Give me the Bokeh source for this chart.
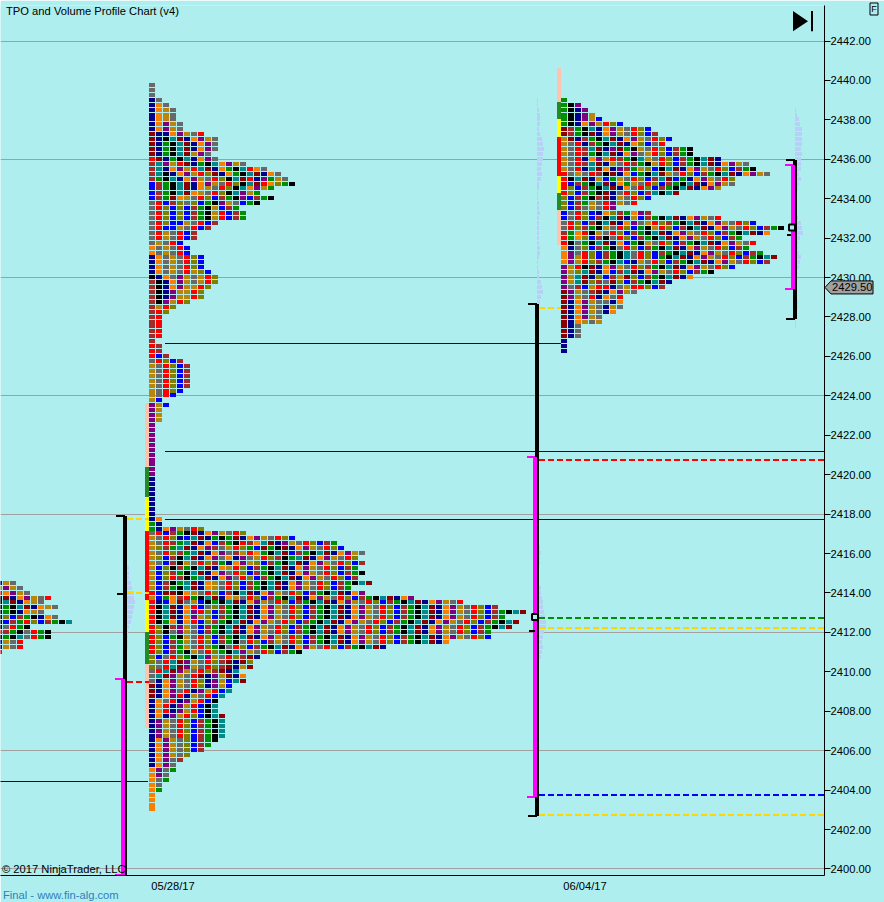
from bokeh.plotting import figure
from bokeh.models import (Range1d, FixedTicker, NumeralTickFormatter)
from bokeh.core.properties import value
from bokeh.embed import file_html
from bokeh.resources import INLINE

BG = "#AFEEEE"
PALETTE = {"g": "#696969", "n": "#00008B", "o": "#F97F00", "d": "#B8860B", "p": "#800080",
           "k": "#000000", "t": "#008B8B", "r": "#8B0000", "R": "#FF0000", "G": "#008F00",
           "B": "#0000FF", "b": "#A52A2A", "l": "#808000"}
CYCLE = "dgRlBbGktrnop"
TICK = 0.25

TICK_PRICES = list(range(2400, 2444, 2))
GRID_PRICES = list(range(2400, 2448, 6))
DATE_LABELS = {173: "05/28/17", 585: "06/04/17"}

# --- session 0 (left edge)
Z_TOP = 2414.5
Z_COLORS = ["ndg", "dpdg", "Ropdg", "krnopdgR", "ktrnodg", "kGktrnodg", "kGknodg", "klBbGknog",
            "kBbGRlBbGk", "kgRGk", "RbGkgRGk", "kGktgRGk", "ndgR", "ndgR", "R"]
Z_WIDTHS = [3, 4, 5, 8, 7, 9, 7, 9, 11, 5, 8, 8, 4, 4, 1]

# --- session 1 (05/28)
A_TOP = 2439.75
A_WIDTHS = [1, 1, 1, 2, 3, 4, 4, 4, 5, 5, 8, 10, 10, 10, 9, 10, 14, 17, 19, 20, 21, 18, 16, 18, 16,
            13, 14, 14, 10, 9, 7, 7, 5, 6, 6, 8, 8, 8, 9, 10, 10, 9, 8, 8, 6, 4, 3, 2, 2, 2,
            2, 2, 1, 2, 2, 3, 5, 6, 6, 6, 6, 6, 5, 4, 2, 3, 2, 2, 2, 1, 1,
            1, 1, 1, 1, 1, 1, 1, 1, 1, 1, 1, 1, 1, 1, 1, 1, 1, 2, 2,
            8, 14, 21, 27, 28, 31, 30, 31, 30, 31, 30, 32, 29, 31, 38, 45, 50, 54, 51, 53, 52, 49, 49,
            43, 34, 22, 16, 15, 15, 13, 14, 14, 12, 12, 11, 10, 10, 10, 11, 11, 11, 11, 11, 10, 9, 8,
            6, 5, 4, 4, 3, 3, 2, 2, 1, 1, 1, 1]
A_COLORS = (["g"] * 3 + ["ng", "nog"] + ["nodg"] * 3 + ["nopdg"] * 2 + [
    "rnnopdgR", "rnktrnopdg", "rnGktrnopg", "rnGktrnopg", "rnGktrdpg", "RrnGktnopg",
    "btpdRrnGktopdg", "btnopdRtrnoGktRog", "btknopdRlrnoGktrnog", "bGktnopdgRlktrRnpGd",
    "BbGktrnopdgRlktrRolGk", "BbGktrnodgRlktopdG", "BbGktrodgRlktpdG", "BbGrodgRlBbGkpBbG",
    "gRBblglBGkpdgBG", "gRlBlBbGkdBbG", "gRlBlBbGkdRBbG", "gRlBlBbGkdRBbG", "gRlBBdgRBb",
    "gRBBdgRBb", "gRdgRBb", "gRdgRBb", "gdgRB", "ogdgRB", "ogdgRB", "nogdgRlB", "nogdgRlB",
    "nogdgRlB", "nogdgRdlB", "knogpdgdRl", "bknopdgdRl", "bknopddRl", "bknpddRl", "bknpddRl",
    "bkpdRl", "bdRl", "bRl"] + ["bR"] * 5 + ["b", "Rb", "Rb", "RBb", "gRlBb"] + ["dgRlBb"] * 5 + [
    "dgRlB", "dgRB", "dB", "pdB", "pd", "pd", "pd"] + ["p"] * 2 + ["p"] * 9 + ["n"] * 9 + ["Gn"] * 2 + [
    "gRBbGkrn", "dgRlnBtrnGkGrn", "dgRbGtrnoBbGkRbotrnpd", "dlbGtrnopbgdRlGBrGkrn",
    "dgRlbGtrnopgbdRoGktrBbGktrnop", "dlBbktrnopgonpgdRlbkGtrnopdgRl", "dgBbkdgRlbGnopdlBbGktrnopdgR",
    "dBlkbGktrnodRlBbGktrnopdgRlB", "dBlbGktrnopgRlBbGkt", "dBlRbkGtrnopgRl", "dBbkGtrnodgRlB",
    "dBbGktrnodgRlB", "RBrrkodgRlBbkt", "dBGobRGktrnodg", "RnBorgdBkGkt", "RktrnoRBglbGkt",
    "RktrnopRlBbGkt", "RktrnopdlBbGkt", "RkGonoRBlbGktr", "RlkbpdgBbGktr", "RlkgpdgBbGktr",
    "RlBGkdgRlBbGk", "RlBbGdgRlBbGkgRlBbdg", "RlBbGdgRlGkgRlBbG", "RlBbGkdgRlGktpdg",
    "lBgRlGktpdgRlbrnglnr", "lgRtrpdgRlbrnrlg", "lgRtrpdgRlbrndr", "gRtrpdgRlbrntr", "gtrpdgRrnpdrn",
    "gnopdgRlnpdBtr", "rnopdgRlnpdBtr", "rnopgRnpdRBt", "rnopRndgRBtt", "nogRnpdRBkt", "noRnpdRBkt",
    "noRnpdRBkt", "nonpdRlBkt", "npdgRlBbGkt", "npdgRlBbGkt", "npdgRlBbGkt", "npdgRlBbGkt",
    "nopdglBbGkt", "nopdglBbGt", "nopdglBbG", "nopdglbG", "nopgbG", "nopgG", "opgG", "opgG", "ogG",
    "ogG", "oG", "oG", "o", "o", "o", "o"])

# --- session 2 (06/04)
B_TOP = 2439.0
B_WIDTHS = [1, 3, 4, 5, 6, 9, 13, 14, 16, 15, 19, 19, 23, 27, 28, 30, 25, 25, 23, 17, 13, 11, 8, 13,
            23, 28, 32, 30, 26, 28, 27, 29, 31, 30, 25, 22, 19, 16, 15, 11, 9, 9, 9, 8, 6, 6, 3, 3, 3,
            1, 1, 1]
B_COLORS = ["G", "Gkp", "Gknp", "Gknpd", "GknpdB", "GknopdRlB", "rbGktnopdgRlB", "rbGkrnopdgRlBb",
            "drnbGktrnopdgRlB", "dgRnbGktrnolBgR", "dgRbtrnprGkdgRlB", "dgRbGktrnopgdRlB",
            "dgRnopdRbGktdgR", "dgRbtrndgRbGkdR", "dgRntronpbGdlBk", "RgdgRbkrnoBGktrdg",
            "RktrndBGdgRlBbtrBGnopd", "RBbGktrnoGdgRlB", "RlBbGktrnogRlBbGk", "RlBbGkrngRlBbtk",
            "lBbGkbrndgR", "lBbGdgRpd", "lBbgdgRp", "BgRlBnolbGopb", "BgRlBbktrndBb", "gRlBbktrnopgdRlbGk",
            "gRlbGkdgRlBGkdRlBbk", "bGoRkdgRlBbGktr", "RGolBbkgRlBbG", "RkgGktrnoBGkd", "onglBbGkgRlBb",
            "opgRlBbGktgRlBbGkt", "opdRlBbGktgRlBGk", "opdRlbGktBnd", "pdRkrnopdgRlbGkt", "pdltrnoBbtrn",
            "pdtrnlBbdrlBb", "pdtrlbgrlB", "pgbBdRRngdRR", "rpdgbrnopdg", "rpdgRnog", "rnopdggn", "rnopdgnd",
            "rnopdgn", "rnopdg", "rnodgd", "rng", "rng", "rng", "n", "n", "n"]

# --- light volume profiles (per 0.25 row)
V1_TOP = 2415.25
V1_VOLUME = [2, 2, 2, 4, 5, 7, 7, 8, 7, 6, 5, 4, 2, 1, 1, 1, 1]
V2_TOP = 2416.25
V2_VOLUME = [2, 3, 2, 2, 1, 1, 1, 1, 3, 3, 4, 5, 5, 6, 7, 8, 8, 6, 5, 4, 5, 4, 3]
V3_TOP = 2439.0
V3_VOLUME = [1, 1, 2, 3, 3, 3, 2, 3, 5, 6, 7, 6, 6, 5, 4, 5, 4, 2, 2, 1, 1, 2, 2, 3, 2, 2, 2, 2,
             2, 2, 3, 3, 2, 1, 1, 2, 2, 4, 5, 6, 4, 3, 2]
V4_TOP = 2438.5
V4_VOLUME = [1, 2, 4, 5, 7, 7, 7, 7, 6, 7, 6, 6, 6, 4, 6, 4, 3, 1, 1, 1, 1, 2, 3, 6, 7, 8, 5, 3, 3,
             4, 6, 5, 4, 2, 1, 1, 1, 2, 2, 3, 3, 2, 1, 1, 1]

# --- reference levels
THIN_LEVELS = [(165, 561, 2426.68), (165, 824, 2421.22), (165, 824, 2417.75), (0, 148, 2404.46)]
DASHED_LEVELS = [(127, 149, 2417.75, "#FFD700"), (127, 149, 2414.0, "#FFD700"), (127, 149, 2409.5, "#FF0000"),
                 (539, 561, 2428.46, "#FFD700"), (539, 824, 2420.75, "#FF0000"), (539, 824, 2412.75, "#008F00"),
                 (539, 824, 2412.23, "#FFD700"), (539, 824, 2403.75, "#0000FF"), (539, 824, 2402.74, "#FFD700")]
# x, high, low of black range / magenta range
RANGES = [(125, 2417.91, 2399.7, 123, 2409.65, 2399.7),
          (537, 2428.66, 2402.69, 535, 2420.9, 2403.65),
          (795, 2435.96, 2427.9, 793, 2435.71, 2429.42)]
MID_TICKS = [(117, 123, 2413.95), (529, 535, 2412.05), (787, 791, 2432.16)]
POC = [(535, 2412.78), (792, 2432.54)]
# period bands beside each profile: (top price, bottom price, colour)
A_BANDS = [(2423.64, 2420.39, "#FFC4B0"), (2420.39, 2418.87, "#228B22"), (2418.87, 2417.14, "#FFFF00"),
           (2417.14, 2413.64, "#FF0000"), (2413.64, 2412.02, "#FFFF00"), (2412.02, 2410.4, "#228B22"),
           (2410.4, 2407.15, "#FFC4B0")]
B_BANDS = [(2440.63, 2438.9, "#FFC4B0"), (2438.9, 2438.04, "#228B22"), (2438.04, 2437.13, "#FFFF00"),
           (2437.13, 2435.15, "#FF0000"), (2435.15, 2434.29, "#FFFF00"), (2434.29, 2433.43, "#228B22"),
           (2433.43, 2431.65, "#FFC4B0")]
LAST_PRICE = 2429.5
LAST_PRICE_LABEL = "2429.50"

W, H = 884, 902
PX_PER_UNIT = 19.714
FRAME_TOP, FRAME_BOTTOM = 5, 875
# the page draws with a half-pixel offset; shift both ranges by it so that marks land on whole pixels
y_hi = 2442 + (41 - FRAME_TOP - 0.5) / PX_PER_UNIT
y_lo = y_hi - (FRAME_BOTTOM - FRAME_TOP) / PX_PER_UNIT


def to_px(price):
    return 41 + (2442 - price) * PX_PER_UNIT


def to_price(px):
    return 2442 - (px - 41) / PX_PER_UNIT


def crisp(price, odd=True):
    """Snap a level onto the pixel grid so that strokes stay sharp."""
    return to_price(round(to_px(price)) + (0.5 if odd else 0))


p = figure(width=W, height=H, output_backend="svg", toolbar_location=None,
           x_range=Range1d(0.5, 824.5), y_range=Range1d(y_lo, y_hi),
           y_axis_location="right", x_axis_location="below",
           min_border_left=0, min_border_right=60, min_border_top=FRAME_TOP, min_border_bottom=H - FRAME_BOTTOM,
           background_fill_color=BG, border_fill_color=BG, outline_line_color=None)
p.styles = {"position": "absolute", "left": "0px", "top": "0px"}

FONT = "Liberation Sans"
FS = "11.2px"
yax = p.yaxis[0]
yax.ticker = FixedTicker(ticks=TICK_PRICES)
yax.formatter = NumeralTickFormatter(format="0.00")
yax.major_tick_out = 6
yax.major_tick_in = 0
yax.minor_tick_out = 0
yax.minor_tick_in = 0
yax.major_label_standoff = 0
yax.major_label_text_font = FONT
yax.major_label_text_font_size = FS
yax.major_label_text_color = "black"
yax.axis_line_color = "black"

xax = p.xaxis[0]
xax.ticker = FixedTicker(ticks=list(DATE_LABELS))
xax.major_label_overrides = DATE_LABELS
xax.major_tick_out = 0
xax.major_tick_in = 0
xax.minor_tick_out = 0
xax.minor_tick_in = 0
xax.major_label_standoff = 4
xax.major_label_text_font = FONT
xax.major_label_text_font_size = FS
xax.major_label_text_color = "black"
xax.axis_line_color = "black"

p.xgrid.visible = False
p.ygrid.ticker = FixedTicker(ticks=GRID_PRICES)
p.ygrid.grid_line_color = "#A0A0A0"
p.ygrid.grid_line_width = 1

CELL_STEP, CELL_W, CELL_H = 7, 6, 4


def row_edges(price, h):
    top_px = round(to_px(price) - 2.4)
    return to_price(top_px), to_price(top_px + h)


def volume_bars(x0, top, vols):
    lefts = [x0] * len(vols)
    rights = [x0 + v for v in vols]
    edges = [row_edges(top - TICK * i, 4) for i in range(len(vols))]
    p.quad(left=lefts, right=rights, top=[e[0] for e in edges], bottom=[e[1] for e in edges],
           fill_color="#B8D0F8", line_color=None)


for x0, top, vols in [(127, V1_TOP, V1_VOLUME), (538, V2_TOP, V2_VOLUME),
                      (537, V3_TOP, V3_VOLUME), (795, V4_TOP, V4_VOLUME)]:
    volume_bars(x0, top, vols)

for x0, x1, lvl in THIN_LEVELS:
    y = crisp(lvl)
    p.segment(x0=[x0], x1=[x1], y0=[y], y1=[y], line_color="#000090", line_width=1)


def cells(x0, top, widths, colors):
    L, R, T, Bt, C = [], [], [], [], []
    for k, w in enumerate(widths):
        s = colors[k] if k < len(colors) else ""
        idx = CYCLE.index(s[-1]) + 1 if s else (k % 13)
        t, b = row_edges(top - TICK * k, CELL_H)
        for i in range(w):
            if i < len(s):
                c = s[i]
            else:
                c = CYCLE[idx % 13]
                idx += 1
            L.append(x0 + CELL_STEP * i)
            R.append(x0 + CELL_STEP * i + CELL_W)
            T.append(t)
            Bt.append(b)
            C.append(PALETTE[c])
    p.quad(left=L, right=R, top=T, bottom=Bt, fill_color=C, line_color=None)


cells(-4, Z_TOP, Z_WIDTHS, Z_COLORS)
cells(149, A_TOP, A_WIDTHS, A_COLORS)
cells(561, B_TOP, B_WIDTHS, B_COLORS)

for x0, bands in [(145, A_BANDS), (557, B_BANDS)]:
    for t, b, c in bands:
        p.quad(left=[x0], right=[x0 + 4], top=[crisp(t, False)], bottom=[crisp(b, False)], fill_color=c, line_color=None)

for x0, x1, lvl, c in DASHED_LEVELS:
    y = crisp(lvl, odd=False)
    p.segment(x0=[x0], x1=[x1], y0=[y], y1=[y], line_color=c, line_width=2, line_dash="6 3")

# range bars with end brackets
for xb, hb, lb, xm, hm, lm in RANGES:
    hb, lb, hm, lm = [crisp(v, False) for v in (hb, lb, hm, lm)]
    p.quad(left=[xb - 2], right=[xb + 2], top=[hb], bottom=[lb], fill_color="black", line_color=None)
    p.segment(x0=[xb - 9, xb - 9], x1=[xb, xb], y0=[hb, lb], y1=[hb, lb], line_color="black", line_width=2)
    p.quad(left=[xm - 2], right=[xm + 2], top=[hm], bottom=[lm], fill_color="#FF00FF", line_color=None)
    p.segment(x0=[xm - 8, xm - 8], x1=[xm, xm], y0=[hm, lm], y1=[hm, lm], line_color="#FF00FF", line_width=2)
for x0, x1, lvl in MID_TICKS:
    y = crisp(lvl, False)
    p.segment(x0=[x0], x1=[x1], y0=[y], y1=[y], line_color="black", line_width=2)
for x0, lvl in POC:
    p.scatter(x=[x0], y=[lvl], marker="square", size=6, fill_color=BG, line_color="black", line_width=2)

# "jump to end" glyph
p.patch(x=[793, 793, 808], y=[2443.52, 2442.5, 2443.0], fill_color="black", line_color=None)
p.quad(left=[811], right=[813], top=[2443.52], bottom=[2442.5], fill_color="black", line_color=None)

# texts
p.text(x=[6], y=[2443.52], text=["TPO and Volume Profile Chart (v4)"], text_font=value(FONT),
       text_font_size=FS, text_baseline="middle", text_color="black")
p.text(x=[2], y=[2400.0], text=["\u00a9 2017 NinjaTrader, LLC"], text_font=value(FONT),
       text_font_size=FS, text_baseline="middle", text_color="black")

# transparent overlay, in page pixels, for what lies outside the price panel
ov = figure(width=W, height=H, output_backend="svg", toolbar_location=None,
            x_range=Range1d(0.5, W + 0.5), y_range=Range1d(H + 0.5, 0.5),
            x_axis_location=None, y_axis_location=None, min_border=0,
            background_fill_color=None, border_fill_color=None, outline_line_color=None)
ov.styles = {"position": "absolute", "left": "0px", "top": "0px"}
ov.grid.visible = False

flag_y = to_px(LAST_PRICE)
ov.patch(x=[825, 831, 873, 873, 831],
         y=[flag_y, flag_y - 6.5, flag_y - 6.5, flag_y + 6.5, flag_y + 6.5],
         fill_color="#A0A0A0", line_color="black", line_width=1)
ov.text(x=[832], y=[flag_y], text=[LAST_PRICE_LABEL], text_font=value(FONT), text_font_size=FS,
        text_baseline="middle", text_color="black")
ov.quad(left=[870], right=[878], top=[3], bottom=[15], fill_alpha=0, line_color="black", line_width=1)
ov.text(x=[874], y=[9], text=["F"], text_font=value(FONT), text_font_size="9px", text_align="center",
        text_baseline="middle", text_color="black")
ov.text(x=[3], y=[895], text=["Final - www.fin-alg.com"], text_font=value(FONT), text_font_size=FS,
        text_baseline="middle", text_color="#2E7FC0")

open("out.html", "w").write(file_html([p, ov], INLINE))
